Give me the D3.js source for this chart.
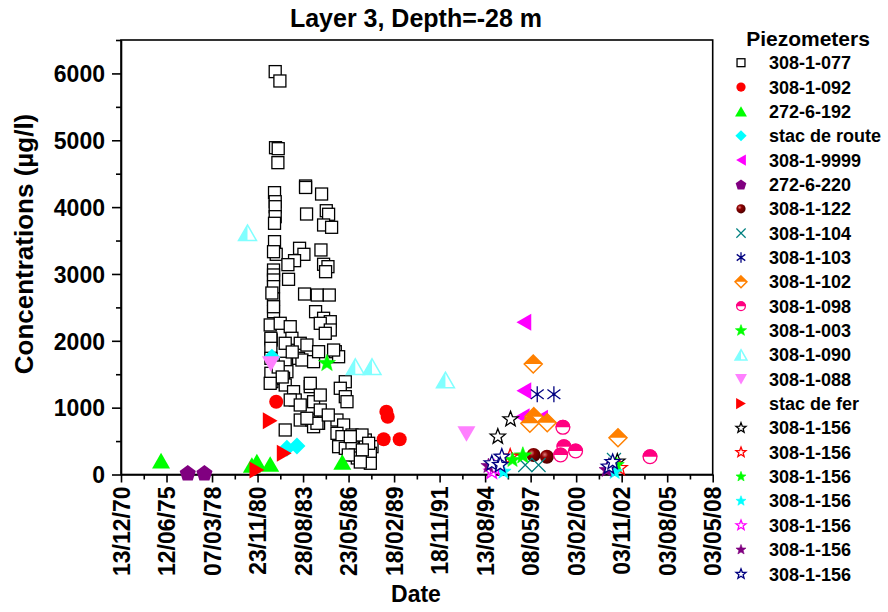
<!DOCTYPE html>
<html><head><meta charset="utf-8">
<script src="https://cdn.jsdelivr.net/npm/d3@7"></script>
<style>
body{margin:0;background:#fff}
text{font-family:"Liberation Sans",Arial,Helvetica,sans-serif;font-weight:bold;fill:#000}
</style>
</head><body>
<svg id="chart" width="888" height="612"></svg>
<script>
// ---------- DATA ----------
const titleText = "Layer 3, Depth=-28 m";
const xTickLabels = ["13/12/70","12/06/75","07/03/78","23/11/80","28/08/83","23/05/86","18/02/89","18/11/91","13/08/94","08/05/97","03/02/00","03/11/02","03/08/05","03/05/08"];
const xTickStep = 1000;           // days between labelled ticks
const yTicks = [0,1000,2000,3000,4000,5000,6000];
const seriesNames = ["308-1-077","308-1-092","272-6-192","stac de route","308-1-9999","272-6-220","308-1-122","308-1-104","308-1-103","308-1-102","308-1-098","308-1-003","308-1-090","308-1-088","stac de fer","308-1-156","308-1-156","308-1-156","308-1-156","308-1-156","308-1-156","308-1-156"];

// [day offset from first tick, concentration µg/l]
const s077 = [[3388,6027],[3491,5887],[3395,4889],[3454,4874],[3447,4665],[4055,4316],[4055,4294],[4407,4196],[3373,4216],[3388,4081],[3388,4006],[3388,3857],[3373,3758],[4077,3897],[4510,3946],[4561,3893],[4451,3733],[4627,3698],[3373,3483],[3410,3294],[3923,3384],[4019,3294],[4393,3359],[3813,3199],[3667,3139],[4451,3145],[4547,3109],[4495,3034],[3351,3059],[3351,2985],[3681,2920],[3351,2910],[3351,2810],[3351,2625],[4033,2700],[4312,2685],[4576,2685],[3351,2436],[4275,2436],[4451,2337],[4598,2286],[3278,2237],[3498,2262],[3718,2211],[3300,2012],[3755,2038],[3938,1963],[4085,1937],[4378,2262],[4598,2162],[4488,2112],[4708,1837],[4781,1762],[3901,1738],[3975,1713],[4231,1688],[3608,1664],[3645,1538],[3315,1389],[3571,1439],[3608,1339],[3791,1239],[3828,1115],[4158,1314],[4231,1089],[4928,1388],[4818,1290],[4928,1164],[4965,1089],[3938,815],[4195,815],[4341,766],[4745,815],[4891,741],[4745,616],[4855,566],[5075,591],[5221,566],[5368,516],[5515,416],[5478,317],[5478,168],[3608,666],[4781,416],[4928,392],[5075,441],[5148,292],[3293,2038],[3293,1888],[3293,1738],[3293,1514],[3608,1963],[4158,1364],[4231,715],[4341,1837],[4671,1862],[4305,766],[4085,841],[5295,591],[5441,467],[5038,566],[5192,247],[5302,367],[5258,187],[4994,292],[3454,1608],[3542,1459],[3718,1115],[3938,1040],[4378,965],[4554,890],[4378,1189],[3762,1833],[3278,1364],[3351,2510],[3315,2715],[3351,3333]];
const s092 = [[3410,1089],[5830,940],[5859,865],[5771,527],[6123,527]];
const s192 = [[880,207],[2985,192],[2875,142],[3278,157],[4862,187]];
const sRoute = [[3315,1753],[3645,392],[3865,426]];
const s9999 = [[8851,2277],[8851,1254],[8815,865],[9218,841]];
const s220 = [[1467,27],[1833,27]];
const s122 = [[9064,292],[9357,266]];
const s104 = [[8881,142],[9174,142],[10831,217]];
const s103 = [[9145,1200],[9511,1200]];
const s102 = [[9057,1653],[9071,865],[8983,766],[9365,775],[10919,550]];
const s098 = [[9709,706],[9731,416],[9658,292],[9988,352],[11623,266]];
const s003 = [[4525,1664],[8829,281]];
const s090 = [[2779,3617],[5148,1613],[5515,1613],[7128,1414]];
const s088 = [[3293,1653],[7590,606]];
const sFer = [[2985,67],[3278,805],[3586,317]];
const s156k = [[8558,826],[8279,566],[10905,192]];
const s156r = [[8551,266],[10956,97]];
const s156g = [[8602,217],[10890,142]];
const s156c = [[8404,42],[10846,37]];
const s156m = [[8147,42],[8206,97]];
const s156p = [[8074,127],[10670,67]];
const s156n = [[8147,167],[8367,266],[8331,142],[10721,117],[10802,187]];

const seriesData = [s077,s092,s192,sRoute,s9999,s220,s122,s104,s103,s102,s098,s003,s090,s088,sFer,s156k,s156r,s156g,s156c,s156m,s156p,s156n];

// ---------- STYLES ----------
const styles = [
  {shape:"square", color:"#000", r:6},
  {shape:"circle", color:"#ff0000", r:7},
  {shape:"triUp", color:"#00ff00", r:9},
  {shape:"diamond", color:"#00ffff", r:8.5},
  {shape:"triLeft", color:"#ff00ff", r:8.5},
  {shape:"pentagon", color:"#800080", r:8.5},
  {shape:"sphere", color:"#800000", r:7},
  {shape:"cross", color:"#008080", r:7},
  {shape:"asterisk", color:"#000080", r:8},
  {shape:"halfDiamond", color:"#ff8000", r:9},
  {shape:"halfCircle", color:"#ff0080", r:7.5},
  {shape:"star", color:"#00ff00", r:9},
  {shape:"halfTri", color:"#80ffff", r:9},
  {shape:"triDown", color:"#ff80ff", r:9},
  {shape:"triRight", color:"#ff0000", r:8.5},
  {shape:"starOpen", color:"#000000", r:8},
  {shape:"starOpen", color:"#ff0000", r:8},
  {shape:"star", color:"#00ff00", r:8},
  {shape:"star", color:"#00ffff", r:8},
  {shape:"starOpen", color:"#ff00ff", r:8},
  {shape:"star", color:"#800080", r:8},
  {shape:"starOpen", color:"#000080", r:8}
];

const svg = d3.select("#chart");
const X0 = 121, X1 = 712.7, Y0 = 474.5, Y1 = 40;
const x = d3.scaleLinear().domain([0, xTickStep*(xTickLabels.length-1)]).range([X0, X1]);
const y = d3.scaleLinear().domain([0, 6500]).range([Y0, Y1]);

// gradient for sphere
const defs = svg.append("defs");
const grad = defs.append("radialGradient").attr("id","sph").attr("cx","35%").attr("cy","35%").attr("r","65%");
grad.append("stop").attr("offset","0%").attr("stop-color","#e08080");
grad.append("stop").attr("offset","35%").attr("stop-color","#900000");
grad.append("stop").attr("offset","100%").attr("stop-color","#500000");

function poly(pts){ return "M" + pts.map(p=>p[0].toFixed(2)+","+p[1].toFixed(2)).join("L") + "Z"; }
function starPts(r){ const a=[]; for(let i=0;i<10;i++){ const rr = i%2? r*0.42 : r; const t = -Math.PI/2 + i*Math.PI/5; a.push([rr*Math.cos(t), rr*Math.sin(t)]);} return a; }

function drawMarker(g, st, r){
  const c = st.color;
  const k = 0.87;
  switch(st.shape){
    case "square": g.append("rect").attr("x",-r).attr("y",-r).attr("width",2*r).attr("height",2*r).attr("fill","#fff").attr("stroke",c).attr("stroke-width",1.3); break;
    case "circle": g.append("circle").attr("r",r).attr("fill",c); break;
    case "triUp": g.append("path").attr("d",poly([[0,-k*r],[r,k*r],[-r,k*r]])).attr("fill",c); break;
    case "triDown": g.append("path").attr("d",poly([[0,k*r],[r,-k*r],[-r,-k*r]])).attr("fill",c); break;
    case "triLeft": g.append("path").attr("d",poly([[-k*r,0],[k*r,-r],[k*r,r]])).attr("fill",c); break;
    case "triRight": g.append("path").attr("d",poly([[k*r,0],[-k*r,-r],[-k*r,r]])).attr("fill",c); break;
    case "diamond": g.append("path").attr("d",poly([[0,-r],[r,0],[0,r],[-r,0]])).attr("fill",c); break;
    case "pentagon": { const p=[]; for(let i=0;i<5;i++){const t=-Math.PI/2+i*2*Math.PI/5; p.push([r*Math.cos(t), r*Math.sin(t)+r*0.1]);} g.append("path").attr("d",poly(p)).attr("fill",c); break; }
    case "sphere": g.append("circle").attr("r",r).attr("fill","url(#sph)"); break;
    case "cross": g.append("path").attr("d",`M${-r},${-r}L${r},${r}M${-r},${r}L${r},${-r}`).attr("stroke",c).attr("stroke-width",1.2).attr("fill","none"); break;
    case "asterisk": {
      const a = r*Math.cos(Math.PI/5), b = r*Math.sin(Math.PI/5);
      g.append("path").attr("d",`M0,${-r}L0,${r}M${-a},${-b}L${a},${b}M${-a},${b}L${a},${-b}`).attr("stroke",c).attr("stroke-width",1.3).attr("fill","none");
      g.append("circle").attr("r",Math.max(1.2,r*0.18)).attr("fill",c);
      break; }
    case "halfDiamond":
      g.append("path").attr("d",poly([[0,-r],[r,0],[0,r],[-r,0]])).attr("fill","#fff").attr("stroke",c).attr("stroke-width",1.5);
      g.append("path").attr("d",poly([[-r,0],[0,-r],[r,0]])).attr("fill",c);
      break;
    case "halfCircle":
      g.append("circle").attr("r",r-0.6).attr("fill","#fff").attr("stroke",c).attr("stroke-width",1.3);
      g.append("path").attr("d",`M${-r},0A${r},${r} 0 0 1 ${r},0Z`).attr("fill",c);
      break;
    case "halfTri":
      g.append("path").attr("d",poly([[0,-k*r],[r,k*r],[-r,k*r]])).attr("fill","#fff").attr("stroke",c).attr("stroke-width",1.5);
      g.append("path").attr("d",poly([[0,-k*r],[0,k*r],[-r,k*r]])).attr("fill",c);
      break;
    case "star": g.append("path").attr("d",poly(starPts(r))).attr("fill",c).attr("stroke",c).attr("stroke-width",0.6); break;
    case "starOpen": g.append("path").attr("d",poly(starPts(r))).attr("fill","#fff").attr("stroke",c).attr("stroke-width",1.3); break;
  }
}

// ---------- AXES ----------
const ax = svg.append("g").attr("transform",`translate(0,${Y0})`)
  .call(d3.axisBottom(x).tickValues(d3.range(0, xTickStep*xTickLabels.length, xTickStep)).tickFormat((d,i)=>xTickLabels[i]).tickSize(8).tickSizeOuter(0));
ax.selectAll("text").attr("transform","rotate(-90)").attr("x",-12).attr("y",0).attr("dy","0.36em").attr("text-anchor","end").style("font-size","23px");
svg.append("g").attr("transform",`translate(0,${Y0})`)
  .call(d3.axisBottom(x).tickValues(d3.range(xTickStep/2, xTickStep*(xTickLabels.length-1), xTickStep)).tickFormat("").tickSize(5).tickSizeOuter(0))
  .select(".domain").remove();

const ay = svg.append("g").attr("transform",`translate(${X0},0)`)
  .call(d3.axisLeft(y).tickValues(yTicks).tickFormat(d3.format("d")).tickSize(9).tickPadding(7).tickSizeOuter(0));
ay.selectAll("text").style("font-size","23px").attr("dy","0.36em");
svg.append("g").attr("transform",`translate(${X0},0)`)
  .call(d3.axisLeft(y).tickValues(d3.range(500, 6501, 1000)).tickFormat("").tickSize(5).tickSizeOuter(0))
  .select(".domain").remove();

svg.selectAll(".domain, .tick line").attr("stroke","#000").attr("stroke-width",1.6);
svg.append("rect").attr("x",X0).attr("y",Y1).attr("width",X1-X0).attr("height",Y0-Y1).attr("fill","none").attr("stroke","#000").attr("stroke-width",1.6);

// ---------- MARKERS ----------
const plot = svg.append("g");
seriesData.forEach((data, si)=>{
  const st = styles[si];
  data.forEach(d=>{
    const g = plot.append("g").attr("transform",`translate(${x(d[0])},${y(d[1])})`);
    drawMarker(g, st, st.r);
  });
});

// ---------- TEXTS ----------
svg.append("text").attr("x",416).attr("y",27).attr("text-anchor","middle").style("font-size","25px").text(titleText);
svg.append("text").attr("x",416).attr("y",602).attr("text-anchor","middle").style("font-size","23px").text("Date");
svg.append("text").attr("transform","translate(33,244) rotate(-90)").attr("text-anchor","middle").style("font-size","26px").text("Concentrations (\u00b5g/l)");

// ---------- LEGEND ----------
const lg = svg.append("g");
lg.append("text").attr("x",808).attr("y",46).attr("text-anchor","middle").style("font-size","21px").text("Piezometers");
seriesNames.forEach((name,i)=>{
  const yy = 62.7 + i*24.35;
  const g = lg.append("g").attr("transform",`translate(741,${yy})`);
  drawMarker(g, styles[i], styles[i].r*0.66);
  lg.append("text").attr("x",769).attr("y",yy).attr("dy","0.36em").style("font-size","18px").text(name);
});
</script>
</body></html>
